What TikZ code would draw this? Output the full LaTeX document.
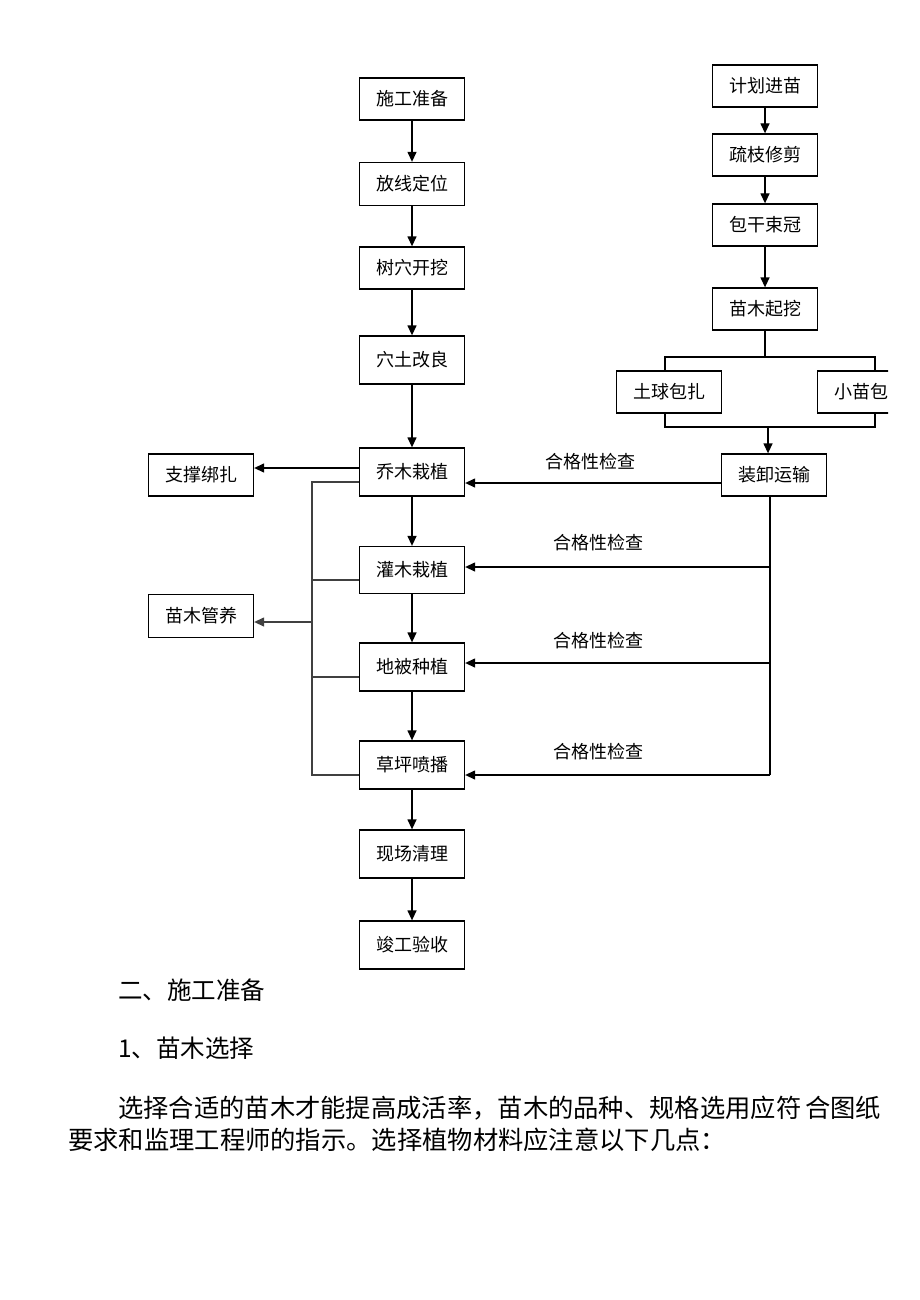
\documentclass[tikz,border=0pt]{standalone}
\usepackage{fontspec}
\newfontfamily\cjk{Noto Sans CJK SC}
\usetikzlibrary{arrows.meta}
\begin{document}
\begin{tikzpicture}[x=1pt,y=-1pt,
  box/.style={draw,line width=1.3pt,minimum width=105pt,inner sep=0pt,font=\cjk\fontsize{18}{20}\selectfont},
  lbl/.style={font=\cjk\fontsize{18}{20}\selectfont,inner sep=0pt},
  para/.style={font=\cjk\fontsize{24.5}{26}\selectfont,inner sep=0pt,anchor=west},
  parb/.style={font=\cjk\fontsize{25.3}{27}\selectfont,inner sep=0pt,anchor=west},
  arr/.style={line width=1.3pt,-{Triangle[length=10pt,width=9pt]}},
  ln/.style={line width=1.3pt},
  gln/.style={line width=1.3pt,draw=black!75}]
\useasboundingbox (0,0) rectangle (920,1300);
% left column
\node[box,minimum height=42pt] (a1) at (412,99) {施工准备};
\node[box,minimum height=43pt] (a2) at (412,184) {放线定位};
\node[box,minimum height=42pt] (a3) at (412,268) {树穴开挖};
\node[box,minimum height=48pt] (a4) at (412,360) {穴土改良};
\node[box,minimum height=48pt] (a5) at (412,472) {乔木栽植};
\node[box,minimum height=47pt] (a6) at (412,570) {灌木栽植};
\node[box,minimum height=48pt] (a7) at (412,667) {地被种植};
\node[box,minimum height=48pt] (a8) at (412,765) {草坪喷播};
\node[box,minimum height=48pt] (a9) at (412,854) {现场清理};
\node[box,minimum height=48pt] (a10) at (412,945) {竣工验收};
% right column
\node[box,minimum height=42pt] (b1) at (765,86) {计划进苗};
\node[box,minimum height=42pt] (b2) at (765,155) {疏枝修剪};
\node[box,minimum height=42pt] (b3) at (765,225) {包干束冠};
\node[box,minimum height=42pt] (b4) at (765,309) {苗木起挖};
\node[box,minimum height=42pt] (c1) at (669,392) {土球包扎};
\begin{scope}
\clip (0,0) rectangle (888,1300);
\node[box,minimum height=42pt] (c2) at (870,392) {小苗包扎};
\end{scope}
\node[box,minimum height=42pt] (d1) at (774,475) {装卸运输};
% side boxes
\node[box,minimum height=42pt] (s1) at (201,475) {支撑绑扎};
\node[box,minimum height=43pt] (s2) at (201,616) {苗木管养};
% left main arrows
\foreach \u/\v in {a1/a2,a2/a3,a3/a4,a4/a5,a5/a6,a6/a7,a7/a8,a8/a9,a9/a10}
  \draw[arr] (\u.south) -- (\v.north);
% right chain
\foreach \u/\v in {b1/b2,b2/b3,b3/b4}
  \draw[arr] (\u.south) -- (\v.north);
% split
\coordinate (t1) at (665,357);
\coordinate (t2) at (875,357);
\coordinate (u1) at (665,427);
\coordinate (u2) at (875,427);
\coordinate (um) at (768,427);
\draw[ln] (b4.south) -- (b4.south |- t1);
\draw[ln] (t1 |- c1.north) -- (t1) -- (t2) -- (t2 |- c2.north);
\draw[ln] (u1 |- c1.south) -- (u1) -- (u2) -- (u2 |- c2.south);
\draw[arr] (um) -- (um |- d1.north);
% inspections
\draw[arr] (d1.west |- 0,483) -- (a5.east |- 0,483);
\node[lbl] (q1) at (590,462) {合格性检查};
\coordinate (r0) at (770,496);
\coordinate (r1) at (770,567);
\coordinate (r2) at (770,663);
\coordinate (r3) at (770,775);
\draw[ln] (r0) -- (r3);
\draw[arr] (r1) -- (a6.east |- r1);
\draw[arr] (r2) -- (a7.east |- r2);
\draw[arr] (r3) -- (a8.east |- r3);
\node[lbl] (q2) at (598,543) {合格性检查};
\node[lbl] (q3) at (598,641) {合格性检查};
\node[lbl] (q4) at (598,752) {合格性检查};
% left side
\draw[arr] (a5.west |- 0,468) -- (s1.east |- 0,468);
\coordinate (k0) at (312,482);
\coordinate (k3) at (312,775);
\draw[gln] (a5.west |- k0) -- (k0) -- (k3) -- (a8.west |- k3);
\draw[gln] (k0 |- 0,580) -- (a6.west |- 0,580);
\draw[gln] (k0 |- 0,677) -- (a7.west |- 0,677);
\draw[arr,draw=black!75] (k0 |- 0,622) -- (s2.east |- 0,622);
% text
\node[para] (p1) at (118,990) {二、施工准备};
\node[para] (p2) at (118,1048) {1、苗木选择};
\node[parb] (p3) at (118,1108) {选择合适的苗木才能提高成活率，苗木的品种、规格选用应符\hspace{4pt}合图纸};
\node[parb] (p4) at (68,1140) {要求和监理工程师的指示。选择植物材料应注意以下几点：};
\end{tikzpicture}
\end{document}
